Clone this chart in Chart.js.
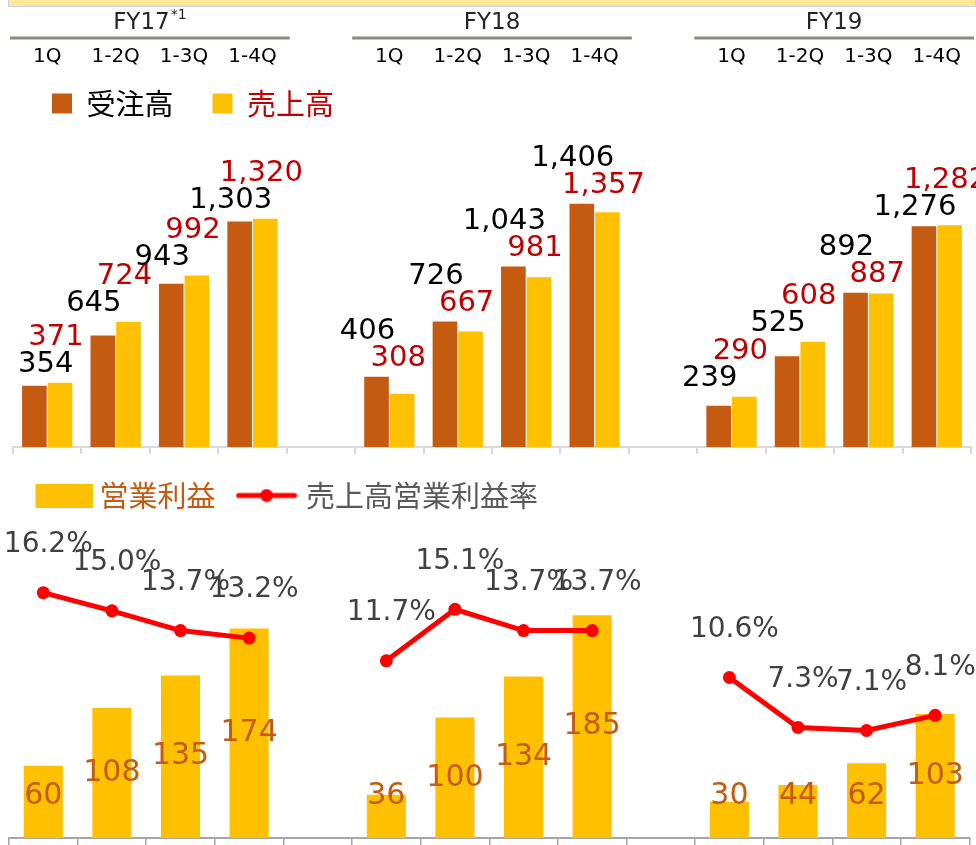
<!DOCTYPE html>
<html>
<head>
<meta charset="utf-8">
<script src="https://cdn.jsdelivr.net/npm/chart.js@4.4.1/dist/chart.umd.min.js"></script>
<style>
  html, body { margin: 0; padding: 0; background: #fff; }
  #wrap { position: relative; width: 976px; height: 845px; overflow: hidden; background: #fff; }
  #banner { position: absolute; left: 8px; top: -3px; width: 968px; height: 10px; background: #FFE699; border: 1px solid #CBD3DF; box-sizing: border-box; }
  canvas { position: absolute; left: 0; }
  #topChart { top: 0; }
  #bottomChart { top: 445px; }
</style>
</head>
<body>
<div id="wrap">
  <div id="banner"></div>
  <canvas id="topChart" width="976" height="455"></canvas>
  <canvas id="bottomChart" width="976" height="400"></canvas>
</div>
<script>
// ---------- data ----------
const quarterLabels = ["1Q","1-2Q","1-3Q","1-4Q","","1Q","1-2Q","1-3Q","1-4Q","","1Q","1-2Q","1-3Q","1-4Q"];
const fiscalYears = ["FY17","FY18","FY19"];
const fiscalNotes = ["*1","",""];
const orders = [354,645,943,1303,null,406,726,1043,1406,null,239,525,892,1276];
const sales  = [371,724,992,1320,null,308,667,981,1357,null,290,608,887,1282];
const operatingProfit = [60,108,135,174,null,36,100,134,185,null,30,44,62,103];
const operatingMargin = [16.2,15.0,13.7,13.2,null,11.7,15.1,13.7,13.7,null,10.6,7.3,7.1,8.1];
const topLegend = ["受注高","売上高"];
const bottomLegend = ["営業利益","売上高営業利益率"];

// ---------- styles ----------
const ORANGE = '#C55A11';
const YELLOW = '#FFC000';
const DARKRED = '#C00000';
const RED = '#FF0000';
const NUMFONT = '"DejaVu Sans", Verdana, sans-serif';
const JPFONT = '"Noto Sans CJK JP", "Noto Sans", sans-serif';

const fmt = v => v.toLocaleString('en-US');

// ---------- header (fiscal year groups + quarter labels) ----------
const headerPlugin = {
  id: 'header',
  afterDraw(chart) {
    const ctx = chart.ctx, x = chart.scales.x;
    const half = (x.getPixelForValue(1) - x.getPixelForValue(0)) / 2;
    ctx.save();
    ctx.textBaseline = 'middle';
    ctx.fillStyle = '#000';
    ctx.textAlign = 'center';
    ctx.font = '20px ' + NUMFONT;
    quarterLabels.forEach((q, i) => { if (q) ctx.fillText(q, x.getPixelForValue(i), 57); });
    const groups = [];
    let start = null;
    quarterLabels.forEach((q, i) => {
      if (q && start === null) start = i;
      const last = i === quarterLabels.length - 1;
      if (start !== null && (!q || last)) { groups.push([start, q ? i : i - 1]); start = null; }
    });
    groups.forEach(([s, e], g) => {
      const x0 = x.getPixelForValue(s) - half - 3, x1 = x.getPixelForValue(e) + half + 3;
      ctx.strokeStyle = '#8A8A80';
      ctx.lineWidth = 3;
      ctx.beginPath(); ctx.moveTo(x0, 38); ctx.lineTo(x1, 38); ctx.stroke();
      const main = fiscalYears[g], note = fiscalNotes[g];
      ctx.font = '23px ' + NUMFONT;
      const w1 = ctx.measureText(main).width;
      ctx.font = '14px ' + NUMFONT;
      const w2 = note ? ctx.measureText(note).width + 1 : 0;
      const left = (x0 + x1) / 2 - (w1 + w2) / 2;
      ctx.textAlign = 'left';
      ctx.fillStyle = '#262626';
      ctx.font = '23px ' + NUMFONT;
      ctx.fillText(main, left, 23);
      if (note) { ctx.font = '14px ' + NUMFONT; ctx.fillText(note, left + w1 + 1, 15); }
    });
    ctx.restore();
  }
};

// ---------- top chart value labels ----------
const topLabelPlugin = {
  id: 'topLabels',
  afterDatasetsDraw(chart) {
    const ctx = chart.ctx;
    const mO = chart.getDatasetMeta(0), mS = chart.getDatasetMeta(1);
    ctx.save();
    ctx.font = '29px ' + NUMFONT;
    ctx.textAlign = 'center';
    ctx.textBaseline = 'middle';
    const clampX = (txt, x) => Math.max(x, ctx.measureText(txt).width / 2 + 18);
    orders.forEach((v, i) => {
      const s = sales[i];
      if (v == null || s == null) return;
      const bo = mO.data[i], bs = mS.data[i];
      const minTop = Math.min(bo.y, bs.y);
      const low = minTop - 18, high = minTop - 45;
      const oHigher = v > s;
      ctx.fillStyle = '#000';
      ctx.fillText(fmt(v), clampX(fmt(v), bo.x - 9), oHigher ? high : low);
      ctx.fillStyle = DARKRED;
      ctx.fillText(fmt(s), clampX(fmt(s), bs.x - 4), oHigher ? low : high);
    });
    ctx.restore();
  }
};

// ---------- bottom chart value labels ----------
const bottomLabelPlugin = {
  id: 'bottomLabels',
  afterDatasetsDraw(chart) {
    const ctx = chart.ctx;
    const mB = chart.getDatasetMeta(0), mL = chart.getDatasetMeta(1);
    ctx.save();
    ctx.textAlign = 'center';
    ctx.textBaseline = 'middle';
    ctx.font = '30px ' + NUMFONT;
    ctx.fillStyle = ORANGE;
    operatingProfit.forEach((v, i) => {
      if (v == null) return;
      const b = mB.data[i];
      const y = Math.min((b.y + b.base) / 2, b.base - 42);
      ctx.fillText(String(v), b.x, y);
    });
    ctx.font = '28px ' + NUMFONT;
    ctx.fillStyle = '#404040';
    operatingMargin.forEach((v, i) => {
      if (v == null) return;
      const p = mL.data[i];
      ctx.fillText(v.toFixed(1) + '%', p.x + 5, p.y - 48);
    });
    ctx.restore();
  }
};

// ---------- legend symbols for the bottom chart ----------
function rectSymbol() {
  const c = document.createElement('canvas');
  c.width = 65; c.height = 24;
  const g = c.getContext('2d');
  g.fillStyle = YELLOW; g.fillRect(8, 0, 57, 24);
  return c;
}
function lineSymbol() {
  const c = document.createElement('canvas');
  c.width = 62; c.height = 14;
  const g = c.getContext('2d');
  g.strokeStyle = RED; g.lineWidth = 5; g.lineCap = 'round';
  g.beginPath(); g.moveTo(3, 7); g.lineTo(59, 7); g.stroke();
  g.fillStyle = RED; g.beginPath(); g.arc(31, 7, 6.5, 0, Math.PI * 2); g.fill();
  return c;
}

Chart.defaults.animation = false;
Chart.defaults.plugins.tooltip.enabled = false;

// ---------- top chart ----------
new Chart(document.getElementById('topChart'), {
  type: 'bar',
  data: {
    labels: quarterLabels,
    datasets: [
      { label: topLegend[0], data: orders, backgroundColor: ORANGE, categoryPercentage: 0.75, barPercentage: 0.96 },
      { label: topLegend[1], data: sales, backgroundColor: YELLOW, categoryPercentage: 0.75, barPercentage: 0.96 }
    ]
  },
  options: {
    responsive: false,
    devicePixelRatio: 1,
    events: [],
    layout: { padding: { top: 50, left: 13, right: 5, bottom: 1 } },
    scales: {
      x: {
        ticks: { display: false },
        grid: { display: true, drawOnChartArea: false, drawTicks: true, tickLength: 7, color: '#D9D9D9', lineWidth: 2 },
        border: { display: true, color: '#D9D9D9', width: 2 }
      },
      y: { display: false, min: 0, max: 1844 }
    },
    plugins: {
      legend: {
        position: 'top',
        align: 'start',
        labels: {
          boxWidth: 20, boxHeight: 20, padding: 39,
          font: { family: JPFONT, size: 29 },
          generateLabels: () => [
            { text: topLegend[0], fillStyle: ORANGE, strokeStyle: ORANGE, lineWidth: 0, fontColor: '#000', hidden: false, datasetIndex: 0 },
            { text: topLegend[1], fillStyle: YELLOW, strokeStyle: YELLOW, lineWidth: 0, fontColor: DARKRED, hidden: false, datasetIndex: 1 }
          ]
        }
      }
    }
  },
  plugins: [headerPlugin, topLabelPlugin]
});

// ---------- bottom chart ----------
new Chart(document.getElementById('bottomChart'), {
  type: 'bar',
  data: {
    labels: quarterLabels,
    datasets: [
      { type: 'bar', label: bottomLegend[0], data: operatingProfit, backgroundColor: YELLOW, yAxisID: 'y', categoryPercentage: 1, barPercentage: 0.57, order: 2 },
      { type: 'line', label: bottomLegend[1], data: operatingMargin, yAxisID: 'y1', borderColor: RED, backgroundColor: RED,
        borderWidth: 5, pointRadius: 6.5, pointBackgroundColor: RED, pointBorderWidth: 0, spanGaps: false, tension: 0, order: 1 }
    ]
  },
  options: {
    responsive: false,
    devicePixelRatio: 1,
    events: [],
    layout: { padding: { top: 10, left: 9, right: 2, bottom: 0 } },
    scales: {
      x: {
        ticks: { display: false },
        grid: { display: true, drawOnChartArea: false, drawTicks: true, tickLength: 7, color: '#A6A6A6', lineWidth: 1.5 },
        border: { display: true, color: '#A6A6A6', width: 2 }
      },
      y: { display: false, min: 0, max: 264 },
      y1: { display: false, min: 0, max: 21, position: 'right' }
    },
    plugins: {
      legend: {
        position: 'top',
        align: 'start',
        labels: {
          usePointStyle: true, pointStyleWidth: 50, padding: 26,
          font: { family: JPFONT, size: 29 },
          generateLabels: () => [
            { text: bottomLegend[0], pointStyle: rectSymbol(), fillStyle: YELLOW, strokeStyle: YELLOW, lineWidth: 0, fontColor: ORANGE, hidden: false, datasetIndex: 0 },
            { text: bottomLegend[1], pointStyle: lineSymbol(), fillStyle: RED, strokeStyle: RED, lineWidth: 0, fontColor: '#595959', hidden: false, datasetIndex: 1 }
          ]
        }
      }
    }
  },
  plugins: [bottomLabelPlugin]
});
</script>
</body>
</html>
